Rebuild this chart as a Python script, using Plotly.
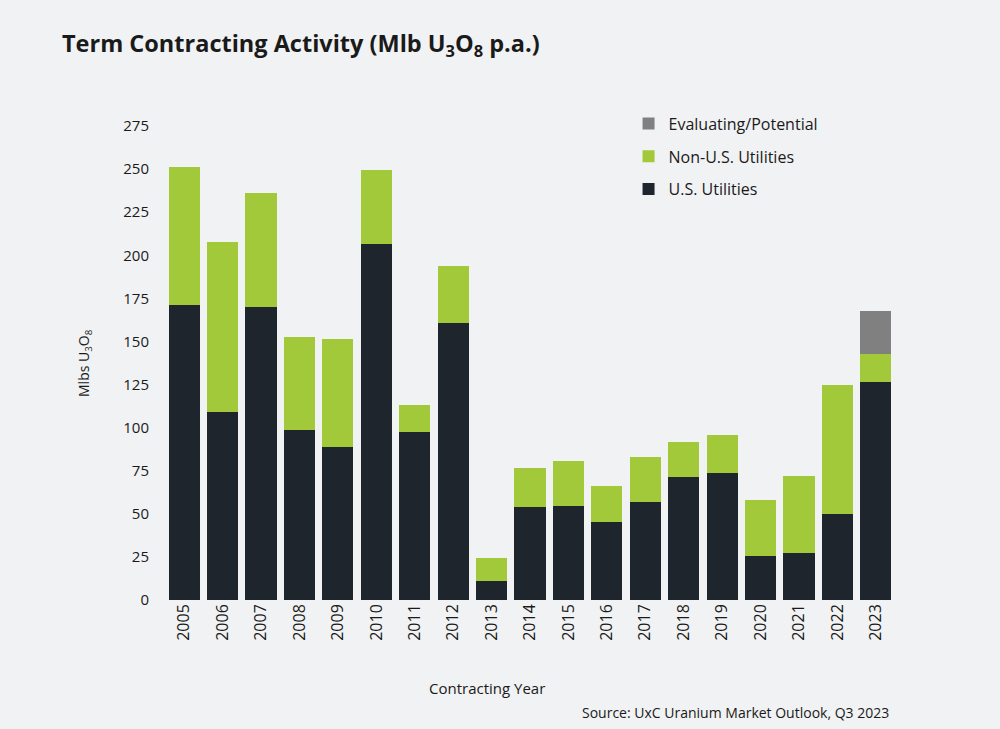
import plotly.graph_objects as go

years = [str(y) for y in range(2005, 2024)]
us_utilities = [171, 109, 170, 98.5, 89, 206.5, 97.5, 160.5, 11, 54, 54.5, 45, 57, 71.5, 73.5, 25.5, 27.5, 50, 126.5]
non_us_utilities = [80, 98.5, 66, 54, 62.5, 43, 15.5, 33.5, 13.5, 22.5, 26, 21, 26, 20, 22.5, 32.5, 44.5, 75, 16.5]
evaluating = [0, 0, 0, 0, 0, 0, 0, 0, 0, 0, 0, 0, 0, 0, 0, 0, 0, 0, 24.5]
y_ticks = [0, 25, 50, 75, 100, 125, 150, 175, 200, 225, 250, 275]

FONT = "Open Sans"
TXT = "#1a1a1a"
BG = "#f1f2f4"

fig = go.Figure()
fig.add_trace(go.Bar(x=years, y=us_utilities, name="U.S. Utilities",
                     marker=dict(color="#1f252d", line=dict(width=0)),
                     legendgroup="a", legendrank=3))
fig.add_trace(go.Bar(x=years, y=non_us_utilities, name="Non-U.S. Utilities",
                     marker=dict(color="#a2c93a", line=dict(width=0)),
                     legendgroup="b", legendrank=2))
fig.add_trace(go.Bar(x=years, y=evaluating, name="Evaluating/Potential",
                     marker=dict(color="#808080", line=dict(width=0)),
                     legendgroup="c", legendrank=1))

fig.update_layout(
    width=1000, height=729,
    barmode="stack", bargap=0.19,
    paper_bgcolor=BG, plot_bgcolor=BG,
    margin=dict(l=165, r=105, t=126, b=129),
    font=dict(family=FONT, color=TXT, size=15),
    title=dict(text="<b>Term Contracting Activity (Mlb U<sub>3</sub>O<sub>8</sub> p.a.)</b>",
               x=0.062, xanchor="left", y=0.94, yanchor="middle",
               font=dict(family=FONT, size=23.5, color=TXT)),
    showlegend=True,
    legend=dict(x=0.635, y=1.041, xanchor="left", yanchor="top",
                traceorder="grouped", tracegroupgap=9,
                font=dict(family=FONT, size=16, color=TXT),
                bgcolor="rgba(0,0,0,0)"),
    xaxis=dict(type="category", tickangle=-90, showgrid=False, showline=False,
               ticks="", tickfont=dict(size=16, color=TXT)),
    yaxis=dict(range=[0, 275], tickvals=y_ticks, showgrid=False, zeroline=False,
               showline=False, ticks="", ticklabelstandoff=15,
               tickfont=dict(size=15, color=TXT)),
    annotations=[
        dict(text="Mlbs U<sub>3</sub>O<sub>8</sub>", xref="paper", yref="paper",
             x=-0.111, y=0.5, textangle=-90, showarrow=False,
             font=dict(size=14, color=TXT), xanchor="center", yanchor="middle"),
        dict(text="Contracting Year", xref="paper", yref="paper",
             x=0.441, y=-0.1857, showarrow=False,
             font=dict(size=15, color=TXT), xanchor="center", yanchor="middle"),
        dict(text="Source: UxC Uranium Market Outlook, Q3 2023", xref="paper", yref="paper",
             x=0.9945, y=-0.238, showarrow=False,
             font=dict(size=14, color=TXT), xanchor="right", yanchor="middle"),
    ],
)

fig.write_html("out.html")
